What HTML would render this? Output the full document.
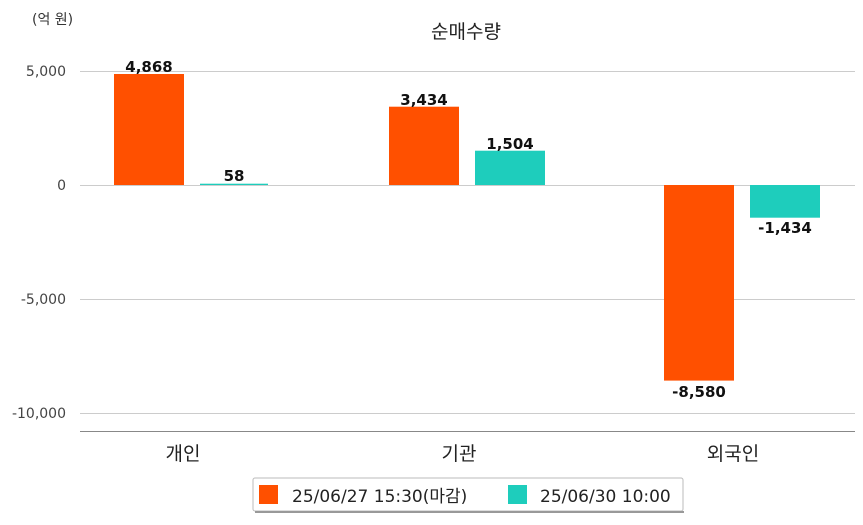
<!DOCTYPE html>
<html><head><meta charset="utf-8"><style>
body{margin:0;background:#fff;}
svg text{font-family:"DejaVu Sans","Noto Sans CJK KR",sans-serif;}
</style></head><body>
<svg width="863" height="520" xmlns="http://www.w3.org/2000/svg">
<text x="32" y="24" font-size="14" fill="#333">(억 원)</text>
<text x="466" y="38" font-size="19" fill="#222" text-anchor="middle">순매수량</text>
<g stroke="#ccc" stroke-width="1">
<line x1="80" y1="71.5" x2="855" y2="71.5"/>
<line x1="80" y1="185.5" x2="855" y2="185.5"/>
<line x1="80" y1="299.5" x2="855" y2="299.5"/>
<line x1="80" y1="413.5" x2="855" y2="413.5"/>
</g>
<line x1="80" y1="431.5" x2="855" y2="431.5" stroke="#888" stroke-width="1"/>
<g font-size="14" fill="#444" text-anchor="end">
<text x="66" y="76">5,000</text>
<text x="66" y="190">0</text>
<text x="66" y="304">-5,000</text>
<text x="66" y="418">-10,000</text>
</g>
<g fill="#ff5000">
<rect x="114" y="74" width="70" height="111"/>
<rect x="389" y="106.7" width="70" height="78.3"/>
<rect x="664" y="185" width="70" height="195.6"/>
</g>
<g fill="#1ecdbc">
<rect x="200" y="183.7" width="68" height="1.3"/>
<rect x="475" y="150.7" width="70" height="34.3"/>
<rect x="750" y="185" width="70" height="32.7"/>
</g>
<g font-size="15" font-weight="bold" fill="#111" text-anchor="middle">
<text x="149" y="72">4,868</text>
<text x="234" y="181">58</text>
<text x="424" y="105">3,434</text>
<text x="510" y="149">1,504</text>
<text x="699" y="397">-8,580</text>
<text x="785" y="233">-1,434</text>
</g>
<g font-size="19" fill="#222" text-anchor="middle">
<text x="183" y="460">개인</text>
<text x="459" y="460">기관</text>
<text x="733" y="460">외국인</text>
</g>
<rect x="253" y="478" width="430" height="33" fill="#fff" stroke="#bbb" rx="2"/>
<rect x="255" y="511" width="429" height="2" fill="#999"/>
<rect x="259" y="485" width="19" height="19" fill="#ff5000"/>
<text x="292" y="502" font-size="17" fill="#222">25/06/27 15:30(마감)</text>
<rect x="508" y="485" width="19" height="19" fill="#1ecdbc"/>
<text x="540" y="502" font-size="17" fill="#222">25/06/30 10:00</text>
</svg>
</body></html>
